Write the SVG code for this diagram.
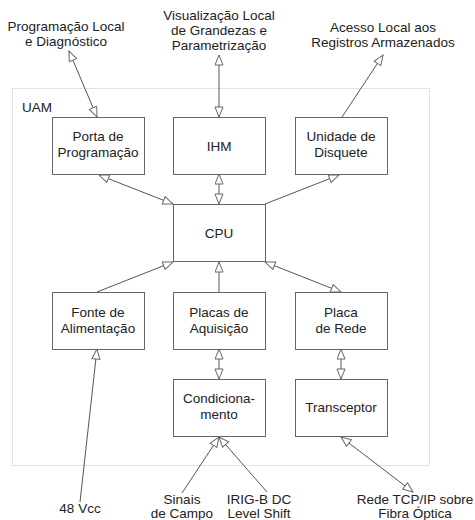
<svg xmlns="http://www.w3.org/2000/svg" width="475" height="520" viewBox="0 0 475 520">
<style>
text{font-family:"Liberation Sans",Arial,sans-serif;font-size:13.5px;fill:#222;text-anchor:middle}
.box{fill:#fff;stroke:#666;stroke-width:1}
.c{stroke:#555;stroke-width:1;fill:none}
</style>
<defs>
<marker id="ah" viewBox="0 0 12 10" refX="11" refY="4.5" markerWidth="12" markerHeight="10" markerUnits="userSpaceOnUse" orient="auto-start-reverse">
<path d="M1,0.5 L11,4.5 L1,8.5 Z" fill="#fff" stroke="#666" stroke-width="1"/>
</marker>
</defs>
<rect width="475" height="520" fill="#fff"/>
<g id="uam">
<rect x="12.5" y="88.5" width="417" height="377" fill="none" stroke="#c4c4c4" stroke-width="1" stroke-dasharray="1,1"/>
<text x="22" y="112" style="text-anchor:start">UAM</text>
</g>
<g id="ext-labels">
<text x="66" y="31">Programação Local</text>
<text x="66" y="46">e Diagnóstico</text>
<text x="219" y="20">Visualização Local</text>
<text x="219" y="35">de Grandezas e</text>
<text x="219" y="50">Parametrização</text>
<text x="383" y="32">Acesso Local aos</text>
<text x="383" y="47">Registros Armazenados</text>
<text x="80" y="513">48 Vcc</text>
<text x="182" y="504">Sinais</text>
<text x="182" y="518">de Campo</text>
<text x="259" y="504">IRIG-B DC</text>
<text x="259" y="518">Level Shift</text>
<text x="415" y="504">Rede TCP/IP sobre</text>
<text x="415" y="518">Fibra Óptica</text>
</g>
<g id="connectors">
<line class="c" x1="97" y1="117" x2="69" y2="51" marker-start="url(#ah)" marker-end="url(#ah)"/>
<line class="c" x1="219" y1="117" x2="219" y2="55" marker-start="url(#ah)" marker-end="url(#ah)"/>
<line class="c" x1="342" y1="117" x2="383" y2="55" marker-end="url(#ah)"/>
<line class="c" x1="173" y1="204" x2="99" y2="175" marker-start="url(#ah)" marker-end="url(#ah)"/>
<line class="c" x1="219" y1="204" x2="219" y2="174" marker-start="url(#ah)" marker-end="url(#ah)"/>
<line class="c" x1="265" y1="204" x2="339" y2="175" marker-end="url(#ah)"/>
<line class="c" x1="97" y1="292" x2="173" y2="262" marker-end="url(#ah)"/>
<line class="c" x1="219" y1="292" x2="219" y2="262" marker-end="url(#ah)"/>
<line class="c" x1="265" y1="262" x2="341" y2="292" marker-start="url(#ah)" marker-end="url(#ah)"/>
<line class="c" x1="219" y1="349" x2="219" y2="379" marker-start="url(#ah)" marker-end="url(#ah)"/>
<line class="c" x1="341" y1="349" x2="341" y2="379" marker-start="url(#ah)" marker-end="url(#ah)"/>
<line class="c" x1="80" y1="502" x2="97" y2="349" marker-end="url(#ah)"/>
<line class="c" x1="182" y1="493" x2="219" y2="437" marker-end="url(#ah)"/>
<line class="c" x1="267" y1="492" x2="219" y2="437" marker-end="url(#ah)"/>
<line class="c" x1="341" y1="437" x2="413" y2="492" marker-start="url(#ah)" marker-end="url(#ah)"/>
</g>
<g id="porta"><rect class="box" x="52.5" y="117.5" width="92" height="57"/><text x="98" y="141">Porta de</text><text x="98" y="157">Programação</text></g>
<g id="ihm"><rect class="box" x="173.5" y="117.5" width="92" height="57"/><text x="219" y="151">IHM</text></g>
<g id="disquete"><rect class="box" x="295.5" y="117.5" width="92" height="57"/><text x="341" y="141">Unidade de</text><text x="341" y="157">Disquete</text></g>
<g id="cpu"><rect class="box" x="173.5" y="204.5" width="92" height="57"/><text x="219" y="238">CPU</text></g>
<g id="fonte"><rect class="box" x="52.5" y="292.5" width="92" height="57"/><text x="98" y="317">Fonte de</text><text x="98" y="333">Alimentação</text></g>
<g id="placas"><rect class="box" x="173.5" y="292.5" width="92" height="57"/><text x="219" y="317">Placas de</text><text x="219" y="333">Aquisição</text></g>
<g id="rede"><rect class="box" x="295.5" y="292.5" width="92" height="57"/><text x="341" y="317">Placa</text><text x="341" y="333">de Rede</text></g>
<g id="cond"><rect class="box" x="173.5" y="379.5" width="92" height="57"/><text x="219" y="403">Condiciona-</text><text x="219" y="419">mento</text></g>
<g id="trans"><rect class="box" x="295.5" y="379.5" width="92" height="57"/><text x="341" y="412">Transceptor</text></g>
</svg>
